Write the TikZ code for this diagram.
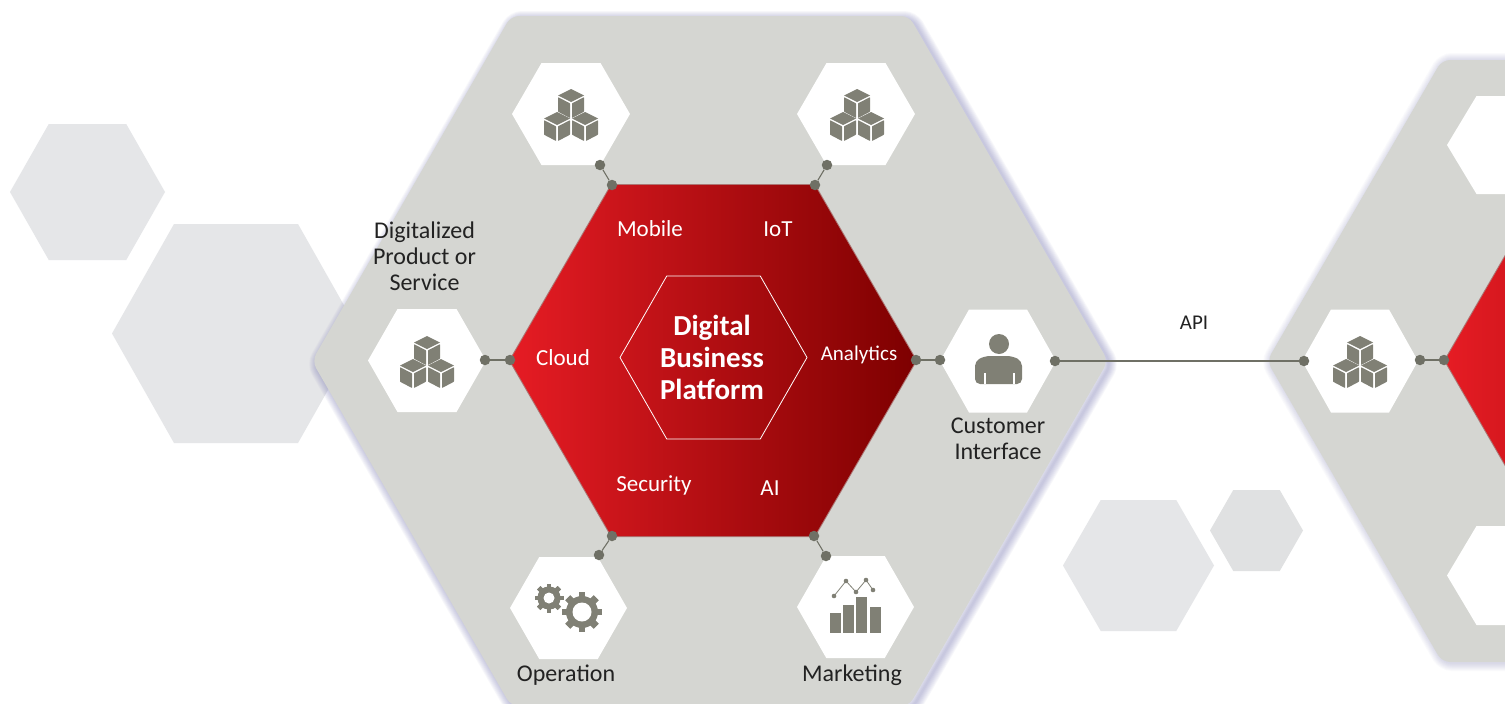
\documentclass[tikz,border=0pt]{standalone}
\usepackage{fontspec}
\setmainfont{Carlito}
\usetikzlibrary{shadings}
\pgfdeclarelayer{bg}
\pgfsetlayers{bg,main}
\definecolor{plate}{HTML}{D5D6D2}
\definecolor{pale}{HTML}{E5E6E8}
\definecolor{stone}{HTML}{808075}
\definecolor{pin}{HTML}{6F7065}
\definecolor{redlight}{HTML}{E61C24}
\definecolor{reddark}{HTML}{7D0000}
\definecolor{ink}{HTML}{222222}
% hexagon outline: centre x, centre y, half width, half height
\newcommand{\hexa}[4]{({#1-#3},#2) -- ({#1-#3/2},{#2-#4}) -- ({#1+#3/2},{#2-#4}) -- ({#1+#3},#2) -- ({#1+#3/2},{#2+#4}) -- ({#1-#3/2},{#2+#4}) -- cycle}
\newcommand{\onecube}[2]{
    \fill[stone, shift={(#1,#2)}] (0,-14.5) -- (13,-8) -- (0,-1.5) -- (-13,-8) -- cycle;
    \fill[stone, shift={(#1,#2)}, rounded corners=0.5pt] (-13,-6.3) -- (-1,-0.2) -- (-1,14.5) -- (-13,8.2) -- cycle;
    \fill[stone, shift={(#1,#2)}, rounded corners=0.5pt] (13,-6.3) -- (1,-0.2) -- (1,14.5) -- (13,8.2) -- cycle;
}
\newcommand{\onegear}[4]{
    \foreach \a in {0,45,...,315}
        \fill[stone, rotate around={\a:(#1,#2)}] ({#1-#3*0.17},{#2-#3}) rectangle ({#1+#3*0.17},{#2+#3});
    \fill[stone] (#1,#2) circle ({#3*0.8});
    \fill[white] (#1,#2) circle (#4);
}
\tikzset{
    dot/.style={circle, fill=pin, draw=none, minimum size=10.5pt, inner sep=0pt},
    link/.style={draw=pin, line width=1.1pt},
    cell/.style={fill=white},
    caption/.style={text=ink, font=\fontsize{24}{26}\selectfont, align=center, inner sep=0pt},
    tag/.style={text=white, font=\fontsize{23}{26}\selectfont, inner sep=0pt},
    cubes/.pic={
        \onecube{0}{-10.5}
        \onecube{-14}{12.5}
        \onecube{14}{12.5}
    }
}

\begin{document}
\begin{tikzpicture}[x=1pt, y=-1pt]
    \path[use as bounding box, clip] (0,0) rectangle (1505,704);
    \fill[white] (0,0) rectangle (1505,704);

    \begin{pgfonlayer}{bg}
        \fill[white] (0,0) rectangle (1505,704);
    \end{pgfonlayer}

    \fill[pale] \hexa{87.5}{192}{77.5}{68};
    \fill[pale] \hexa{236}{333.5}{124}{109.5};
    \fill[pale] \hexa{1138.5}{565.5}{75.5}{65.5};
    \fill[pale!95!stone] \hexa{1256.5}{530.5}{46.5}{40.5};

    % soft shadows of the two plates
    \foreach \w in {2,4,...,16} {
        \draw[line width=\w pt, draw=black!55!blue!60!white, opacity=0.05, rounded corners=8pt, shift={(3,3)}] \hexa{710}{361}{398}{345};
        \draw[line width=\w pt, draw=black!55!blue!60!white, opacity=0.03, rounded corners=8pt, shift={(2,1)}] \hexa{1617}{361}{350}{301};
    }
    \fill[plate, rounded corners=8pt] \hexa{710}{361}{398}{345};
    \fill[plate, rounded corners=8pt] \hexa{1617}{361}{350}{301};

    % red cores
    \draw[line width=2pt, draw=reddark, opacity=0.45] \hexa{713}{360.5}{203}{175.5};
    \shade[left color=redlight, right color=reddark] \hexa{713}{360.5}{203}{175.5};
    \draw[line width=2pt, draw=reddark, opacity=0.45] \hexa{1648}{360.5}{203}{175.5};
    \shade[left color=redlight, right color=reddark] \hexa{1648}{360.5}{203}{175.5};
    \draw[white, line width=0.8pt] \hexa{713.5}{357.5}{93.5}{81.5};

    % white cells
    \fill[cell] \hexa{571}{114}{59}{51};
    \fill[cell] \hexa{856}{114}{59}{51};
    \fill[cell] \hexa{427}{360.5}{59}{51.5};
    \fill[cell] \hexa{998}{361}{58}{51.5};
    \fill[cell] \hexa{568.5}{608}{58.5}{51};
    \fill[cell] \hexa{855.5}{607}{58.5}{51};
    \fill[cell] \hexa{1360}{361}{58}{51.5};
    \fill[cell] \hexa{1506}{145}{59}{49};
    \fill[cell] \hexa{1506}{575.5}{59}{49.5};

    % pins
    \node (a1) [dot] at (600,165) {};
    \node (a2) [dot] at (612,185) {};
    \node (b1) [dot] at (827,165) {};
    \node (b2) [dot] at (815,185) {};
    \node (c1) [dot] at (485,360) {};
    \node (c2) [dot] at (510,360) {};
    \node (e1) [dot] at (916,360) {};
    \node (e2) [dot] at (940,360) {};
    \node (f1) [dot] at (599,555) {};
    \node (f2) [dot] at (612,536) {};
    \node (g1) [dot] at (826,556) {};
    \node (g2) [dot] at (814,536) {};
    \node (h1) [dot] at (1055,361) {};
    \node (h2) [dot] at (1304,361) {};
    \node (k1) [dot] at (1420,360) {};
    \node (k2) [dot] at (1444,360) {};

    \draw[link] (a1) -- (a2);
    \draw[link] (b1) -- (b2);
    \draw[link] (c1) -- (c2);
    \draw[link] (e1) -- (e2);
    \draw[link] (f1) -- (f2);
    \draw[link] (g1) -- (g2);
    \draw[link] (h1) -- (h2);
    \draw[link] (k1) -- (k2);

    % icons
    \pic (i1) at (571,114) {cubes};
    \pic (i2) at (857,114) {cubes};
    \pic (i3) at (427,361) {cubes};
    \pic (i4) at (1360,361) {cubes};

    \fill[stone] (999,344) circle (10);
    \fill[stone, rounded corners=5pt] (975,384) -- (975,361) -- (985,356) -- (1012,356) -- (1022,361) -- (1022,384) -- cycle;
    \fill[white] (983.5,373) rectangle (986,384);
    \fill[white] (1012.5,373) rectangle (1015,384);

    \onegear{582}{612}{20}{9.5}
    \onegear{549}{598}{14.5}{5.5}

    \fill[stone] (830,613) rectangle (841,633);
    \fill[stone] (843,605) rectangle (854,633);
    \fill[stone] (856,597) rectangle (867,633);
    \fill[stone] (870,607) rectangle (881,633);
    \draw[stone, line width=0.8pt] (834,596) -- (846,581) -- (856,592) -- (866,580) -- (873,590);
    \foreach \p in {(834,596),(846,581),(856,592),(866,580),(873,590)}
        \fill[stone] \p circle (2.3);

    % texts
    \node (mobile) [tag] at (650,229) {Mobile};
    \node (iot) [tag] at (778,229) {IoT};
    \node (cloud) [tag] at (563,358) {Cloud};
    \node (analytics) [tag, font=\fontsize{21}{26}\selectfont] at (859,355) {Analytics};
    \node (security) [tag] at (654,485) {Security};
    \node (ai) [tag] at (770,488) {AI};
    \node (dbp) [text=white, font=\fontsize{29}{32}\selectfont\bfseries, align=center, inner sep=0pt] at (712,357) {Digital\\Business\\Platform};
    \node (product) [caption] at (424.5,256) {Digitalized\\Product or\\Service};
    \node (customer) [caption] at (998,439) {Customer\\Interface};
    \node (operation) [caption] at (566,675) {Operation};
    \node (marketing) [caption] at (852,675) {Marketing};
    \node (api) [caption, font=\fontsize{21}{26}\selectfont] at (1194,323) {API};
\end{tikzpicture}
\end{document}
